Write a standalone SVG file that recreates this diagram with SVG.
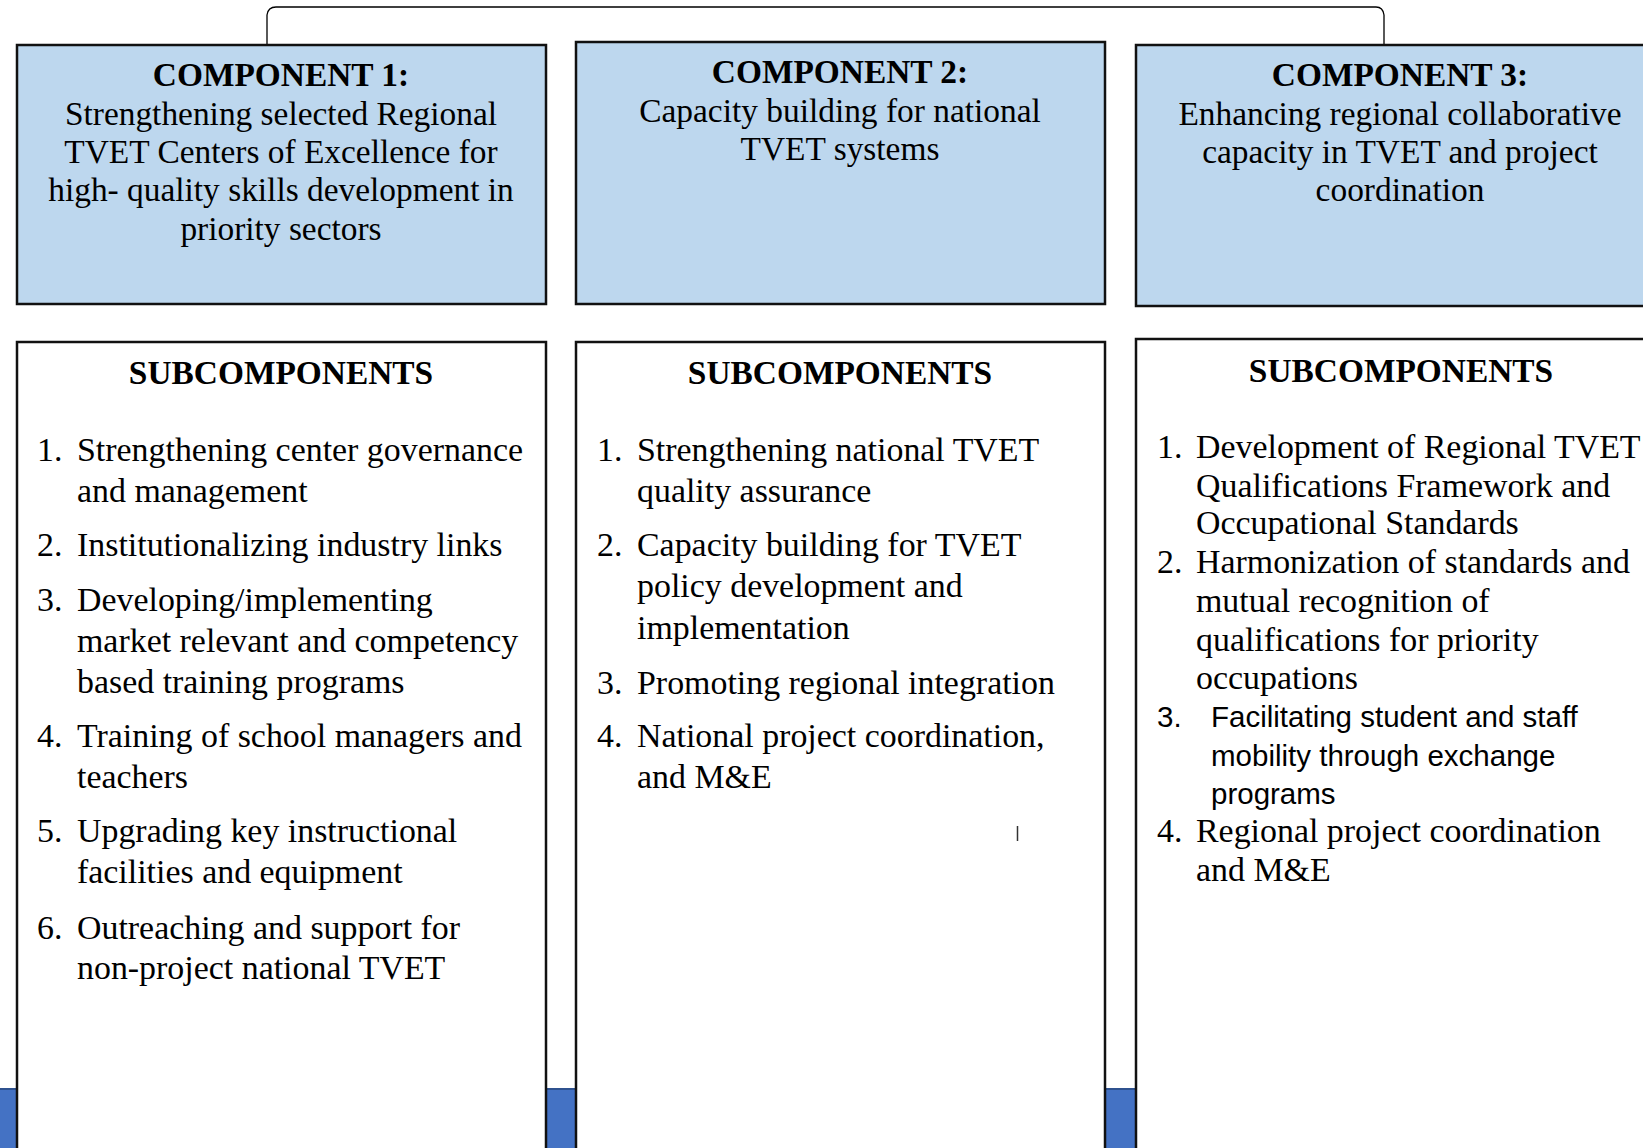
<svg xmlns="http://www.w3.org/2000/svg" width="1643" height="1148" viewBox="0 0 1643 1148">
<style>
.comp{fill:#BDD7EE;stroke:#111;stroke-width:2.5}
.sub{fill:#fff;stroke:#111;stroke-width:2.5}
.t{font-family:"Liberation Serif","Times New Roman",serif;font-size:33.4px;fill:#000}
.i{font-size:33.9px}
.c{text-anchor:middle}
.b{font-weight:bold}
.s{font-family:"Liberation Sans",Arial,sans-serif;font-size:29.5px;fill:#000}
.conn{fill:none;stroke:#000;stroke-width:1.3}
</style>
<rect x="0" y="0" width="1643" height="1148" fill="#fff"/>
<rect id="band" x="-5" y="1089" width="1660" height="70" fill="#4472C4" stroke="#2F528F" stroke-width="2"/>
<g id="connectors">
<path class="conn" d="M267,45 L267,15 Q268,7 276,7 L1376,7 Q1383,7 1384,15 L1384,45"/>
</g>
<g id="comp1">
<rect class="comp" x="17" y="45" width="529" height="259"/>
<text class="t c b" x="281" y="86">COMPONENT 1:</text>
<text class="t c" x="281" y="125">Strengthening selected Regional</text>
<text class="t c" x="281" y="163">TVET Centers of Excellence for</text>
<text class="t c" x="281" y="201">high- quality skills development in</text>
<text class="t c" x="281" y="240">priority sectors</text>
</g>
<g id="comp2">
<rect class="comp" x="576" y="42" width="529" height="262"/>
<text class="t c b" x="840" y="83">COMPONENT 2:</text>
<text class="t c" x="840" y="122">Capacity building for national</text>
<text class="t c" x="840" y="160">TVET systems</text>
</g>
<g id="comp3">
<rect class="comp" x="1136" y="45" width="530" height="261"/>
<text class="t c b" x="1400" y="86">COMPONENT 3:</text>
<text class="t c" x="1400" y="125">Enhancing regional collaborative</text>
<text class="t c" x="1400" y="163">capacity in TVET and project</text>
<text class="t c" x="1400" y="201">coordination</text>
</g>
<g id="sub1">
<rect class="sub" x="17" y="342" width="529" height="830"/>
<text class="t c b" x="281" y="384">SUBCOMPONENTS</text>
<text class="t i" x="37" y="461">1.</text><text class="t i" x="77" y="461">Strengthening center governance</text>
<text class="t i" x="77" y="502">and management</text>
<text class="t i" x="37" y="556">2.</text><text class="t i" x="77" y="556">Institutionalizing industry links</text>
<text class="t i" x="37" y="611">3.</text><text class="t i" x="77" y="611">Developing/implementing</text>
<text class="t i" x="77" y="652">market relevant and competency</text>
<text class="t i" x="77" y="693">based training programs</text>
<text class="t i" x="37" y="747">4.</text><text class="t i" x="77" y="747">Training of school managers and</text>
<text class="t i" x="77" y="788">teachers</text>
<text class="t i" x="37" y="842">5.</text><text class="t i" x="77" y="842">Upgrading key instructional</text>
<text class="t i" x="77" y="883">facilities and equipment</text>
<text class="t i" x="37" y="939">6.</text><text class="t i" x="77" y="939">Outreaching and support for</text>
<text class="t i" x="77" y="979">non-project national TVET</text>
</g>
<g id="sub2">
<rect class="sub" x="576" y="342" width="529" height="830"/>
<text class="t c b" x="840" y="384">SUBCOMPONENTS</text>
<text class="t i" x="597" y="461">1.</text><text class="t i" x="637" y="461">Strengthening national TVET</text>
<text class="t i" x="637" y="502">quality assurance</text>
<text class="t i" x="597" y="556">2.</text><text class="t i" x="637" y="556">Capacity building for TVET</text>
<text class="t i" x="637" y="597">policy development and</text>
<text class="t i" x="637" y="639">implementation</text>
<text class="t i" x="597" y="694">3.</text><text class="t i" x="637" y="694">Promoting regional integration</text>
<text class="t i" x="597" y="747">4.</text><text class="t i" x="637" y="747">National project coordination,</text>
<text class="t i" x="637" y="788">and M&amp;E</text>
<line x1="1017.5" y1="826" x2="1017.5" y2="841" stroke="#333" stroke-width="1.5"/>
</g>
<g id="sub3">
<rect class="sub" x="1136" y="339" width="530" height="833"/>
<text class="t c b" x="1401" y="382">SUBCOMPONENTS</text>
<text class="t i" x="1157" y="458">1.</text><text class="t i" x="1196" y="458">Development of Regional TVET</text>
<text class="t i" x="1196" y="497">Qualifications Framework and</text>
<text class="t i" x="1196" y="534">Occupational Standards</text>
<text class="t i" x="1157" y="573">2.</text><text class="t i" x="1196" y="573">Harmonization of standards and</text>
<text class="t i" x="1196" y="612">mutual recognition of</text>
<text class="t i" x="1196" y="651">qualifications for priority</text>
<text class="t i" x="1196" y="689">occupations</text>
<text class="s" x="1157" y="727">3.</text><text class="s" x="1211" y="727">Facilitating student and staff</text>
<text class="s" x="1211" y="766">mobility through exchange</text>
<text class="s" x="1211" y="804">programs</text>
<text class="t i" x="1157" y="842">4.</text><text class="t i" x="1196" y="842">Regional project coordination</text>
<text class="t i" x="1196" y="881">and M&amp;E</text>
</g>
</svg>
